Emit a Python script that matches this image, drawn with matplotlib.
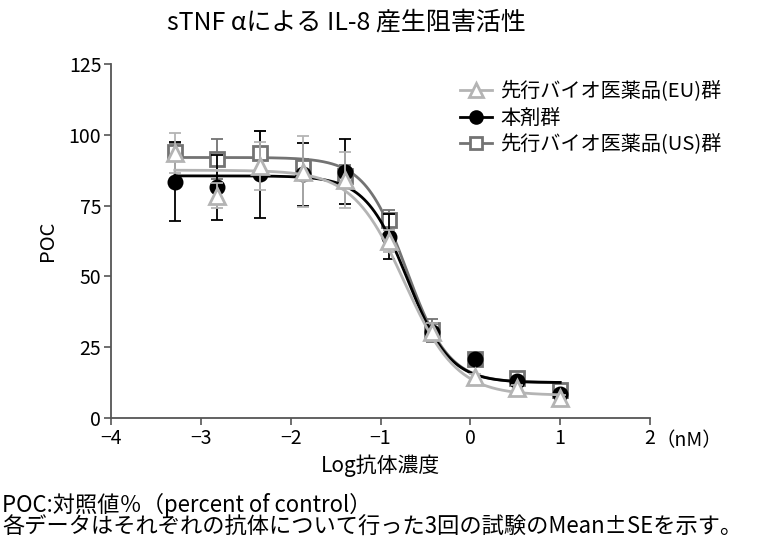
import numpy as np
import matplotlib
matplotlib.use("Agg")
import matplotlib.pyplot as plt

plt.rcParams['font.family'] = ['Noto Sans CJK JP', 'DejaVu Sans']

# --- data ---
log_conc = [-3.29, -2.82, -2.34, -1.86, -1.39, -0.91, -0.43, 0.05, 0.52, 1.00]

eu_mean = [93.5, 78.5, 89.0, 87.0, 84.0, 62.5, 30.5, 14.5, 10.5, 7.0]
eu_se = [7.0, 4.5, 8.5, 12.5, 10.0, 4.0, 3.0, 1.0, 1.0, 1.0]

drug_mean = [83.5, 81.5, 86.0, 86.0, 87.0, 64.0, 30.5, 21.0, 13.0, 8.5]
drug_se = [14.0, 11.5, 15.5, 11.0, 11.5, 8.0, 3.0, 1.0, 1.0, 1.0]

us_mean = [94.0, 91.5, 93.5, 88.5, 85.5, 70.0, 31.0, 21.0, 14.0, 10.0]
us_se = [3.0, 7.0, 8.0, 3.0, 4.0, 3.5, 4.0, 1.0, 1.0, 1.0]

# 4-parameter logistic fit parameters (top, bottom, logEC50, hill)
eu_fit = (87.5, 8.0, -0.73, 1.5)
drug_fit = (85.5, 12.5, -0.70, 1.85)
us_fit = (92.0, 12.5, -0.71, 1.85)

labels = ['先行バイオ医薬品(EU)群', '本剤群', '先行バイオ医薬品(US)群']
x_ticks = [-4, -3, -2, -1, 0, 1, 2]
x_tick_labels = ['−4', '−3', '−2', '−1', '0', '1', '2']
y_ticks = [0, 25, 50, 75, 100, 125]


def four_pl(x, p):
    top, bottom, c, h = p
    return bottom + (top - bottom) / (1 + 10 ** ((x - c) * h))


fig = plt.figure(figsize=(7.64, 5.42), dpi=100)
ax = fig.add_axes([0.1453, 0.2288, 0.7055, 0.6531])

xs = np.linspace(min(log_conc), max(log_conc), 300)

# (mean, se, fit, colour, marker, facecolour, size, label, zorder base)
series = [
    (eu_mean, eu_se, eu_fit, '#b4b4b4', '^', 'white', 11, labels[0], 6),
    (drug_mean, drug_se, drug_fit, '#000000', 'o', '#000000', 9.5, labels[1], 4),
    (us_mean, us_se, us_fit, '#737373', 's', 'white', 10, labels[2], 2),
]

handles = []
for mean, se, fit, col, mk, fc, ms, lab, z in series:
    ax.errorbar(log_conc, mean, yerr=se, fmt='none', ecolor=col,
                elinewidth=1.3, capsize=4, capthick=1.3, zorder=z)
    ax.plot(xs, four_pl(xs, fit), color=col, lw=2.0, zorder=z + 0.5)
    ax.plot(log_conc, mean, linestyle='none', marker=mk, markersize=ms,
            markerfacecolor=fc, markeredgecolor=col,
            markeredgewidth=2.0, zorder=z + 1)
    h, = ax.plot([], [], color=col, lw=2.0, marker=mk, markersize=ms - 1,
                 markerfacecolor=fc, markeredgecolor=col, markeredgewidth=2.0)
    handles.append((h, lab))

ax.set_xlim(-4, 2)
ax.set_ylim(0, 125)
ax.set_xticks(x_ticks)
ax.set_xticklabels(x_tick_labels)
ax.set_yticks(y_ticks)
for s in ['top', 'right']:
    ax.spines[s].set_visible(False)
for s in ['left', 'bottom']:
    ax.spines[s].set_color('#555555')
    ax.spines[s].set_linewidth(1.3)
ax.tick_params(axis='both', labelsize=14, length=5, width=1.2, color='#555555',
               direction='out', pad=2)

ax.set_ylabel('POC', fontsize=14.5, labelpad=8)
ax.set_xlabel('Log抗体濃度', fontsize=15, labelpad=4)
ax.text(1.01, -0.033, '（nM）', transform=ax.transAxes, fontsize=14,
        va='top', ha='left')

leg = ax.legend([h for h, _ in handles], [l for _, l in handles],
                loc='upper left', bbox_to_anchor=(0.632, 0.975), frameon=False,
                fontsize=14.5, handlelength=1.6, handletextpad=0.4,
                labelspacing=0.28, borderaxespad=0)

fig.text(0.453, 0.958, 'sTNF αによる IL-8 産生阻害活性', fontsize=18,
         ha='center', va='center')
fig.text(0.003, 0.068, 'POC:対照値％（percent of control）', fontsize=16,
         ha='left', va='center')
fig.text(0.003, 0.027, '各データはそれぞれの抗体について行った3回の試験のMean±SEを示す。',
         fontsize=16, ha='left', va='center')

fig.savefig('out.png', dpi=100)
